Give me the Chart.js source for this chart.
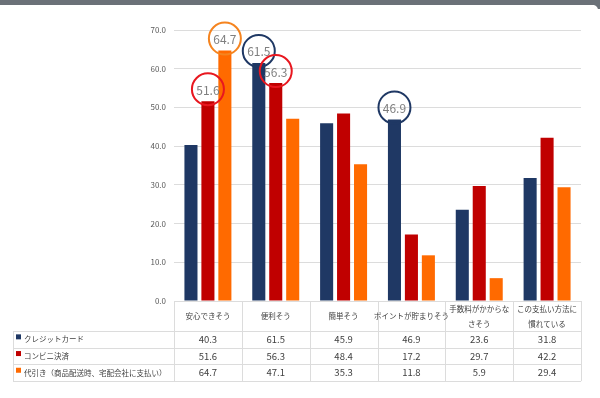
<!DOCTYPE html>
<html>
<head>
<meta charset="utf-8">
<script src="https://cdn.jsdelivr.net/npm/chart.js@4/dist/chart.umd.min.js"></script>
<style>
  html, body { margin: 0; padding: 0; background: #fff; }
  #wrap { width: 600px; height: 398px; }
</style>
</head>
<body>
<div id="wrap"><canvas id="barChart" width="600" height="398"></canvas></div>
<script>
var categories = [
    ['安心できそう'],
    ['便利そう'],
    ['簡単そう'],
    ['ポイントが貯まりそう'],
    ['手数料がかからな', 'さそう'],
    ['この支払い方法に', '慣れている']
];
var seriesNames = ['クレジットカード', 'コンビニ決済', '代引き（商品配送時、宅配会社に支払い）'];
var credit = [40.3, 61.5, 45.9, 46.9, 23.6, 31.8];
var konbini = [51.6, 56.3, 48.4, 17.2, 29.7, 42.2];
var daibiki = [64.7, 47.1, 35.3, 11.8, 5.9, 29.4];
var yTicks = [0, 10, 20, 30, 40, 50, 60, 70];
// circled values: [dataset, category]
var circled = [[1, 0], [2, 0], [0, 1], [1, 1], [0, 3]];

var colors = ['#1f3864', '#c00000', '#ff6a00'];
var circleColors = ['#1f3864', '#e8171f', '#f5841f'];
var jpFont = '"Noto Sans CJK JP", "Noto Sans", sans-serif';

// grey strip at the top of the screenshot
var framePlugin = {
    id: 'frame',
    beforeDraw: function (chart) {
        var c = chart.ctx;
        c.save();
        c.fillStyle = '#fff';
        c.fillRect(0, 0, chart.width, chart.height);
        c.fillStyle = '#6b7178';
        c.fillRect(0, 0, chart.width, 5);
        c.fillRect(594, 0, 6, 9);
        c.fillStyle = '#fff';
        c.beginPath();
        c.moveTo(594, 5);
        c.arcTo(598, 5, 598, 9, 5);
        c.lineTo(594, 9);
        c.fill();
        c.restore();
    }
};

// circles around a few bars
var circlePlugin = {
    id: 'circles',
    afterDatasetsDraw: function (chart) {
        var c = chart.ctx;
        c.save();
        circled.forEach(function (p) {
            var bar = chart.getDatasetMeta(p[0]).data[p[1]];
            var val = chart.data.datasets[p[0]].data[p[1]];
            var cx = bar.x, cy = bar.y - 12;
            c.beginPath();
            c.arc(cx, cy, 16, 0, Math.PI * 2);
            c.lineWidth = 2;
            c.strokeStyle = circleColors[p[0]];
            c.stroke();
            c.fillStyle = '#7f7f7f';
            c.font = '12px ' + jpFont;
            c.textAlign = 'center';
            c.textBaseline = 'middle';
            c.fillText(val.toFixed(1), cx, cy + 1);
        });
        c.restore();
    }
};

// data table under the plot
var tablePlugin = {
    id: 'dataTable',
    afterDraw: function (chart) {
        var c = chart.ctx;
        var x = chart.scales.x;
        var area = chart.chartArea;
        var n = categories.length;
        var colW = (area.right - area.left) / n;
        var top = area.bottom;
        var headH = 30, rowH = 16.7;
        var left = 13;
        c.save();
        c.strokeStyle = '#dcdcdc';
        c.lineWidth = 1;
        c.beginPath();
        for (var i = 0; i <= n; i++) {
            var vx = Math.round(area.left + i * colW) + 0.5;
            c.moveTo(vx, top);
            c.lineTo(vx, top + headH + rowH * 3);
        }
        c.moveTo(left + 0.5, top + headH);
        c.lineTo(left + 0.5, top + headH + rowH * 3);
        for (var r = 0; r <= 3; r++) {
            var hy = Math.round(top + headH + r * rowH) + 0.5;
            c.moveTo(left, hy);
            c.lineTo(area.right, hy);
        }
        c.stroke();

        c.fillStyle = '#404040';
        c.textAlign = 'center';
        c.textBaseline = 'middle';
        c.font = '7.5px ' + jpFont;
        categories.forEach(function (lab, i) {
            var cx = x.getPixelForValue(i);
            if (lab.length === 1) {
                c.fillText(lab[0], cx, top + 15);
            } else {
                c.fillText(lab[0], cx, top + 8);
                c.fillText(lab[1], cx, top + 23);
            }
        });

        chart.data.datasets.forEach(function (ds, r) {
            var cy = top + headH + rowH * r + rowH / 2;
            c.fillStyle = colors[r];
            c.fillRect(left + 3, cy - 5, 5, 5);
            c.fillStyle = '#404040';
            c.textAlign = 'left';
            c.font = '7.5px ' + jpFont;
            c.fillText(ds.label, left + 11, cy);
            c.textAlign = 'center';
            c.font = '9.5px ' + jpFont;
            ds.data.forEach(function (v, i) {
                c.fillText(v.toFixed(1), x.getPixelForValue(i), cy);
            });
        });
        c.restore();
    }
};

var ctx = document.getElementById('barChart').getContext('2d');
var myChart = new Chart(ctx, {
    type: 'bar',
    data: {
        labels: categories,
        datasets: [
            { label: seriesNames[0], data: credit, backgroundColor: colors[0] },
            { label: seriesNames[1], data: konbini, backgroundColor: colors[1] },
            { label: seriesNames[2], data: daibiki, backgroundColor: colors[2] }
        ]
    },
    options: {
        responsive: false,
        animation: false,
        layout: { padding: { top: 30, right: 19, bottom: 97, left: 0 } },
        datasets: { bar: { categoryPercentage: 0.75, barPercentage: 0.77 } },
        plugins: {
            legend: { display: false },
            tooltip: { enabled: false }
        },
        scales: {
            x: {
                display: false
            },
            y: {
                min: 0,
                max: 70,
                afterFit: function (scale) { scale.width = 174; },
                afterBuildTicks: function (scale) {
                    scale.ticks = yTicks.map(function (v) { return { value: v }; });
                },
                border: { display: false },
                grid: { color: '#dcdcdc', drawTicks: false },
                ticks: {
                    padding: 8,
                    color: '#595959',
                    font: { size: 8, family: jpFont },
                    callback: function (v) { return v.toFixed(1); }
                }
            }
        }
    },
    plugins: [framePlugin, circlePlugin, tablePlugin]
});
</script>
</body>
</html>
